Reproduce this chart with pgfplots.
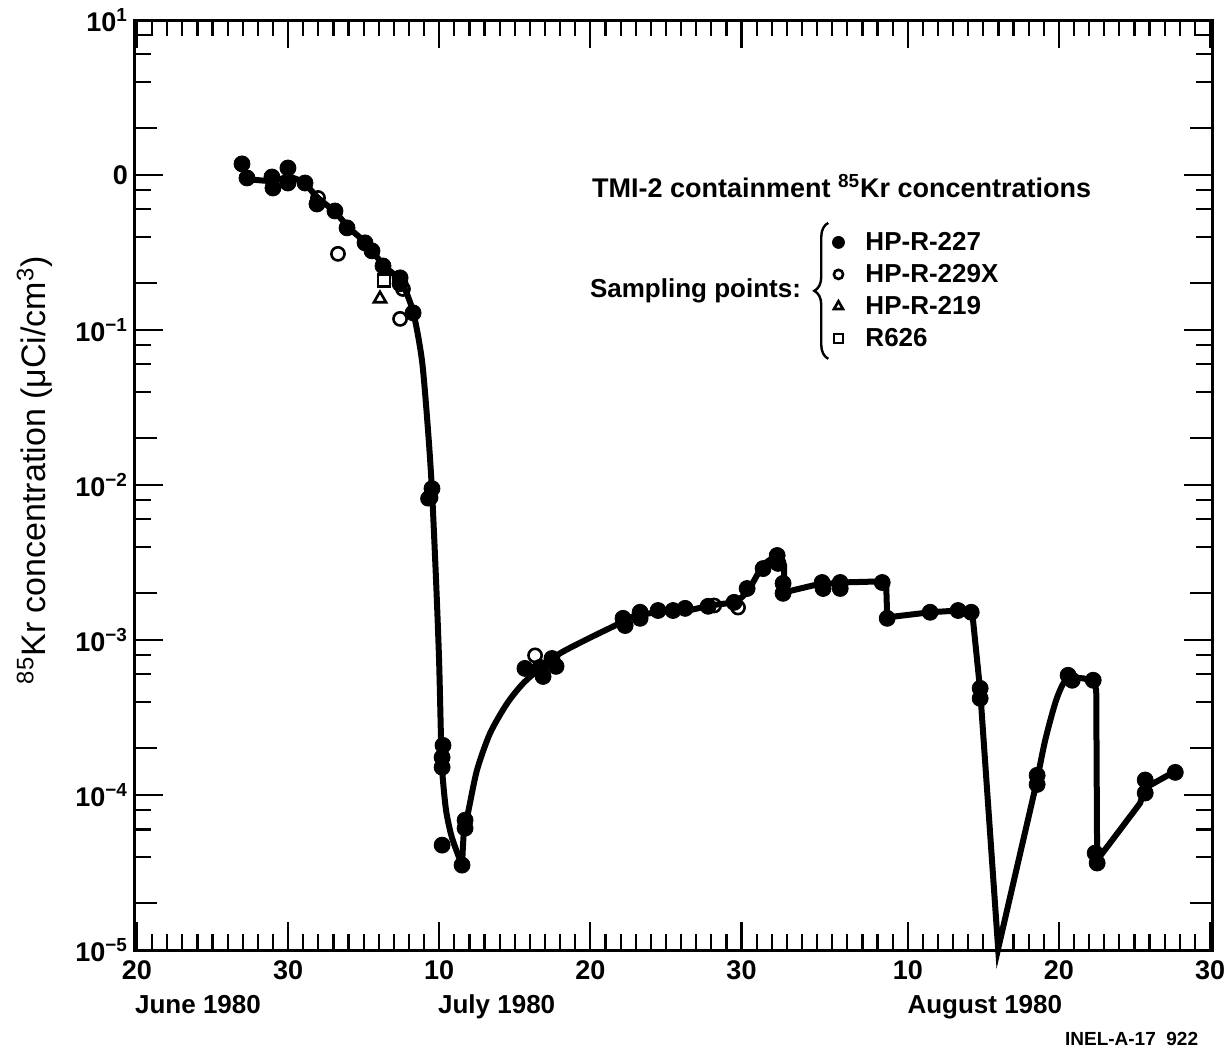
\documentclass[border=0pt]{standalone}
\usepackage{fontspec}
\setmainfont{Liberation Sans}
\usepackage{pgfplots}
\pgfplotsset{compat=1.18}
\usetikzlibrary{decorations.pathreplacing}

\begin{document}
\begin{tikzpicture}
\begin{axis}[
  scale only axis,
  width=538.5pt, height=465pt,
  ymode=log,
  xmin=-0.13, xmax=71.13,
  ymin=1e-5, ymax=10,
  clip=false,
  axis line style={line width=1.5pt},
  every tick/.style={black, line width=1.1pt},
  major tick length=14pt,
  minor tick length=8pt,
  xtick={0,10,20,30,40,51,61,71},
  xticklabels={\textbf{20},\textbf{30},\textbf{10},\textbf{20},\textbf{30},\textbf{10},\textbf{20},\textbf{30}},
  minor xtick={1,...,70},
  ytick={1e-5,1e-4,1e-3,1e-2,1e-1,1,10},
  yticklabels={\textbf{10\textsuperscript{−5}},\textbf{10\textsuperscript{−4}},\textbf{10\textsuperscript{−3}},\textbf{10\textsuperscript{−2}},\textbf{10\textsuperscript{−1}},\textbf{0},\textbf{10\textsuperscript{1}}},
  minor ytick={4e-5,6e-5,8e-5,4e-4,6e-4,8e-4,4e-3,6e-3,8e-3,4e-2,6e-2,8e-2,0.4,0.6,0.8,4,6,8},
  extra y ticks={2e-5,2e-4,2e-3,2e-2,0.2,2},
  extra y tick labels={},
  extra y tick style={major tick length=11pt},
  tick label style={font=\fontsize{13.5}{16}\selectfont\bfseries},
  xticklabel style={yshift=-2pt},
  ylabel={\textsuperscript{85}Kr concentration (μCi/cm\textsuperscript{3})},
  ylabel style={font=\fontsize{17}{20}\selectfont, at={(axis description cs:-0.093,0.516)}, anchor=center},
  legend style={at={(axis cs:45.86,0.455)}, anchor=north west, draw=none, fill=none,
    inner sep=0pt, row sep=2pt,
    font=\fontsize{13}{15}\selectfont\bfseries,
    nodes={inner sep=1pt, text height=10pt, text depth=2pt}},
  legend cell align=left,
  legend image code/.code={\path[draw=none, fill=none] (0pt,-4pt) rectangle (16.5pt,4pt); \draw[#1] plot coordinates {(4pt,0pt)};},
]

% fitted curve
\addplot[black, line width=3pt, smooth, tension=0.45, forget plot] coordinates {
  (7.28,0.942) (8.93,0.915) (10.06,0.971) (11.05,0.888) (11.98,0.711)
  (13.10,0.578) (14.10,0.449) (15.29,0.354) (16.28,0.263) (17.47,0.205)
  (18.27,0.131) (18.86,0.0633) (19.26,0.0224) (19.52,9.2e-3) (19.79,2.42e-3)
  (19.99,7.39e-4) (20.12,2.25e-4) (20.19,1.45e-4) (20.45,7.98e-5) (20.85,5.27e-5)
  (21.51,3.53e-5)
};
\addplot[black, line width=3pt, smooth, tension=0.45, forget plot] coordinates {
  (21.51,3.53e-5) (21.64,5.93e-5) (21.91,7.74e-5) (22.50,1.45e-4) (23.36,2.50e-4)
  (24.49,3.90e-4) (25.55,5.25e-4) (26.67,6.56e-4) (27.99,8.20e-4) (29.85,1.02e-3)
  (31.63,1.24e-3) (32.63,1.40e-3) (34.41,1.51e-3) (36.40,1.55e-3) (37.92,1.67e-3)
  (39.58,1.77e-3) (40.44,2.09e-3) (41.43,3.03e-3) (42.36,3.51e-3)
};
\addplot[black, line width=3pt, forget plot] coordinates {
  (42.36,3.51e-3) (42.82,3.03e-3) (42.82,2.03e-3) (44.74,2.25e-3) (46.53,2.35e-3)
  (49.31,2.39e-3) (49.57,2.32e-3) (49.64,1.40e-3) (52.48,1.51e-3) (54.33,1.55e-3)
  (55.26,1.53e-3) (55.79,4.73e-4) (56.98,1.02e-5) (59.56,1.25e-4)
};
\addplot[black, line width=3pt, smooth, forget plot] coordinates {
  (59.56,1.25e-4) (60.09,2.25e-4) (60.75,3.90e-4) (61.22,5.10e-4) (61.61,5.74e-4)
};
\addplot[black, line width=3pt, forget plot] coordinates {
  (61.61,5.74e-4) (62.61,5.66e-4) (63.33,5.41e-4) (63.47,4.73e-4) (63.53,3.80e-5)
  (66.37,8.85e-5) (66.71,1.11e-4) (68.56,1.40e-4)
};

% HP-R-227
\addplot[black, only marks, mark=*, mark size=4pt, legend image post style={mark size=3pt}] coordinates {
  (6.95,1.18) (7.28,0.957) (8.93,0.971) (9.00,0.825) (9.99,1.11) (9.99,0.888)
  (11.12,0.888) (11.91,0.650) (13.10,0.586) (13.90,0.456) (15.09,0.365) (15.55,0.324)
  (16.28,0.259) (17.41,0.217) (17.41,0.199) (18.27,0.129) (19.52,9.48e-3) (19.39,8.3e-3)
  (20.25,2.09e-4) (20.19,1.75e-4) (20.19,1.51e-4) (20.19,4.75e-5) (21.51,3.53e-5)
  (21.71,6.88e-5) (21.71,6.11e-5)
  (25.67,6.56e-4) (26.67,6.66e-4) (27.46,7.6e-4) (26.87,5.82e-4) (27.73,6.76e-4)
  (32.16,1.38e-3) (32.30,1.24e-3) (33.29,1.51e-3) (33.29,1.38e-3) (34.48,1.55e-3)
  (35.47,1.55e-3) (36.27,1.60e-3) (37.79,1.65e-3) (39.51,1.75e-3) (40.37,2.15e-3)
  (41.43,2.89e-3) (42.36,3.51e-3) (42.42,3.12e-3) (42.75,2.32e-3) (42.75,2.00e-3)
  (45.33,2.35e-3) (45.40,2.15e-3) (46.53,2.35e-3) (46.53,2.15e-3) (49.31,2.35e-3)
  (49.64,1.38e-3) (52.48,1.51e-3) (54.33,1.55e-3) (55.20,1.51e-3) (55.79,4.88e-4)
  (55.79,4.20e-4) (59.56,1.34e-4) (59.56,1.17e-4) (61.61,5.92e-4) (61.88,5.5e-4)
  (63.27,5.5e-4) (63.40,4.22e-5) (63.53,3.64e-5) (66.71,1.25e-4) (66.71,1.03e-4)
  (68.70,1.40e-4)
};
\addlegendentry{HP-R-227}
% HP-R-229X
\addplot[black, only marks, mark=o, mark size=3.3pt, line width=1.3pt,
  mark options={fill=white}, legend image post style={mark size=2.3pt}] coordinates {
  (11.98,0.711) (13.30,0.310) (17.60,0.184) (17.41,0.118) (19.26,8.17e-3)
  (26.34,7.96e-4) (38.19,1.67e-3) (39.77,1.62e-3)
};
\addlegendentry{HP-R-229X}
% HP-R-219
\addplot[black, only marks, mark=triangle, mark size=3.5pt, line width=1.3pt,
  legend image post style={mark size=2.6pt}] coordinates {
  (16.08,0.159)
};
\addlegendentry{HP-R-219}
% R626
\addplot[black, only marks, mark=square, mark size=3pt, line width=1.3pt,
  legend image post style={mark size=2.2pt}] coordinates {
  (16.35,0.208)
};
\addlegendentry{R626}

\node[anchor=west, font=\fontsize{13.5}{16}\selectfont\bfseries] at (axis cs:29.65,0.849)
  {TMI-2 containment \textsuperscript{85}Kr concentrations};
\node[anchor=east, font=\fontsize{13}{15}\selectfont\bfseries] at (axis cs:44.4,0.179) {Sampling points:};
\draw[line width=1.2pt, decorate, decoration={brace, amplitude=7pt}]
  (axis cs:45.74,0.0652) -- (axis cs:45.74,0.491);

\node[anchor=base, font=\fontsize{13}{15}\selectfont\bfseries, yshift=-31.5pt] at (axis cs:4.04,1e-5) {June 1980};
\node[anchor=base, font=\fontsize{13}{15}\selectfont\bfseries, yshift=-31.5pt] at (axis cs:23.8,1e-5) {July 1980};
\node[anchor=base, font=\fontsize{13}{15}\selectfont\bfseries, yshift=-31.5pt] at (axis cs:56.1,1e-5) {August 1980};
\node[anchor=base east, font=\fontsize{9.5}{11}\selectfont\bfseries, yshift=-47.5pt] at (axis cs:70.68,1e-5) {INEL-A-17\ \ 922};
\end{axis}
\pgfresetboundingbox
\path (-67.5pt,-49.5pt) rectangle (547.5pt,475pt);
\end{tikzpicture}
\end{document}
